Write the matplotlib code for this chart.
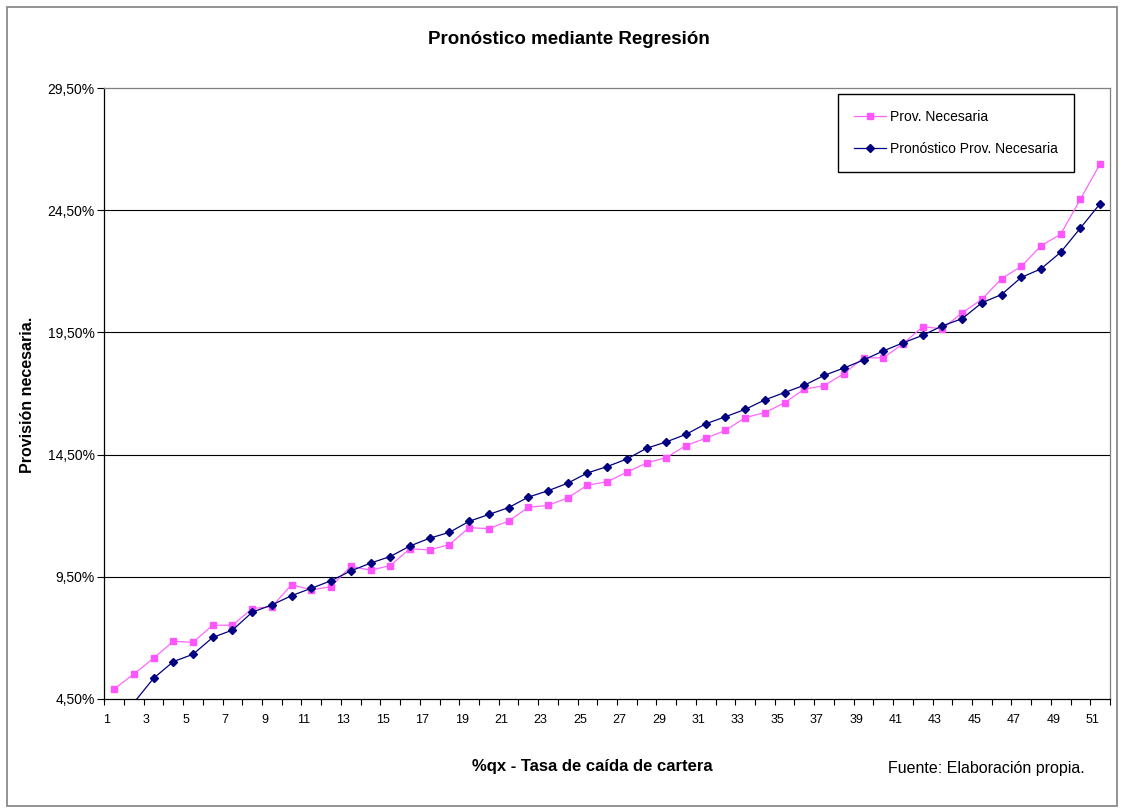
import matplotlib.pyplot as plt
from matplotlib.patches import Rectangle
from matplotlib.ticker import FuncFormatter

plt.rcParams["font.family"] = ["Liberation Sans", "DejaVu Sans"]

# Data (percent)
categorias = list(range(1, 52))
prov_necesaria = [4.91, 5.52, 6.17, 6.86, 6.82, 7.52, 7.52, 8.20, 8.28, 9.18,
                  8.96, 9.10, 9.93, 9.77, 9.96, 10.65, 10.60, 10.82, 11.51, 11.47,
                  11.78, 12.34, 12.42, 12.73, 13.25, 13.39, 13.78, 14.16, 14.38, 14.87,
                  15.17, 15.49, 16.01, 16.22, 16.62, 17.18, 17.32, 17.81, 18.46, 18.46,
                  19.03, 19.73, 19.65, 20.30, 20.85, 21.70, 22.20, 23.04, 23.52, 24.95,
                  26.40]
pronostico = [3.60, 4.35, 5.35, 6.03, 6.33, 7.02, 7.32, 8.05, 8.35, 8.73,
              9.03, 9.34, 9.74, 10.06, 10.33, 10.76, 11.08, 11.32, 11.77, 12.05,
              12.33, 12.76, 13.02, 13.33, 13.75, 14.01, 14.32, 14.76, 15.02, 15.33,
              15.76, 16.05, 16.35, 16.74, 17.04, 17.34, 17.74, 18.04, 18.37, 18.74,
              19.07, 19.38, 19.77, 20.06, 20.71, 21.05, 21.75, 22.10, 22.78, 23.77,
              24.77]
y_ticks = [4.5, 9.5, 14.5, 19.5, 24.5, 29.5]
x_labels = list(range(1, 52, 2))

W, H = 1121, 809
fig = plt.figure(figsize=(W / 100, H / 100), dpi=100)
fig.patch.set_facecolor("white")

# outer chart border
fig.patches.append(Rectangle((7 / W, 3 / H), 1110 / W, 799 / H, transform=fig.transFigure,
                             fill=False, edgecolor="#808080", linewidth=1.2))

ax = fig.add_axes([104.3 / W, 1 - 699 / H, 1005.7 / W, 611 / H])

ax.plot(categorias, prov_necesaria, color="#FF66FF", linewidth=0.9,
        marker="s", markersize=5, markerfacecolor="#FF55FF", markeredgecolor="#FF55FF",
        label="Prov. Necesaria")
ax.plot(categorias, pronostico, color="#000080", linewidth=0.9,
        marker="D", markersize=4.5, markerfacecolor="#000080", markeredgecolor="#000080",
        label="Pronóstico Prov. Necesaria")

ax.set_xlim(0.5, 51.5)
ax.set_ylim(4.5, 29.5)

# gridlines
for v in y_ticks[1:-1]:
    ax.axhline(v, color="black", linewidth=0.8, zorder=0)

ax.set_yticks(y_ticks)
ax.yaxis.set_major_formatter(FuncFormatter(lambda v, p: f"{v:.2f}".replace(".", ",") + "%"))
ax.tick_params(axis="y", direction="out", length=5, width=0.8, labelsize=10, pad=2)

# tick marks between categories, labels placed near left boundary
ax.set_xticks([k + 0.5 for k in range(0, 52)])
ax.set_xticklabels([])
ax.tick_params(axis="x", which="major", direction="out", length=4, width=0.8)
ax.set_xticks([k - 0.38 for k in x_labels], minor=True)
ax.set_xticklabels([str(k) for k in x_labels], minor=True)
ax.tick_params(axis="x", which="minor", length=0, labelsize=9, pad=11)

for s in ["top", "right"]:
    ax.spines[s].set_color("#808080")
for s in ["left", "bottom"]:
    ax.spines[s].set_color("black")
for s in ax.spines.values():
    s.set_linewidth(0.9)

fig.text(569 / W, 1 - 40 / H, "Pronóstico mediante Regresión", ha="center", va="center",
         fontsize=13.5, fontweight="bold")
fig.text(28 / W, 1 - 395 / H, "Provisión necesaria.", ha="center", va="center",
         rotation=90, fontsize=11.5, fontweight="bold")
fig.text(592 / W, 1 - 767 / H, "%qx - Tasa de caída de cartera", ha="center", va="center",
         fontsize=12, fontweight="bold")
fig.text(986 / W, 1 - 769 / H, "Fuente: Elaboración propia.", ha="center", va="center",
         fontsize=11.5)

leg = ax.legend(loc="upper left", bbox_to_anchor=(838 / W, 1 - 94 / H),
                bbox_transform=fig.transFigure, fontsize=10, frameon=True, fancybox=False,
                framealpha=1, edgecolor="black", borderpad=1.15, labelspacing=1.3,
                handlelength=2.3, handletextpad=0.3, borderaxespad=0)
leg.get_frame().set_linewidth(1)

plt.savefig("out.png", dpi=100)
